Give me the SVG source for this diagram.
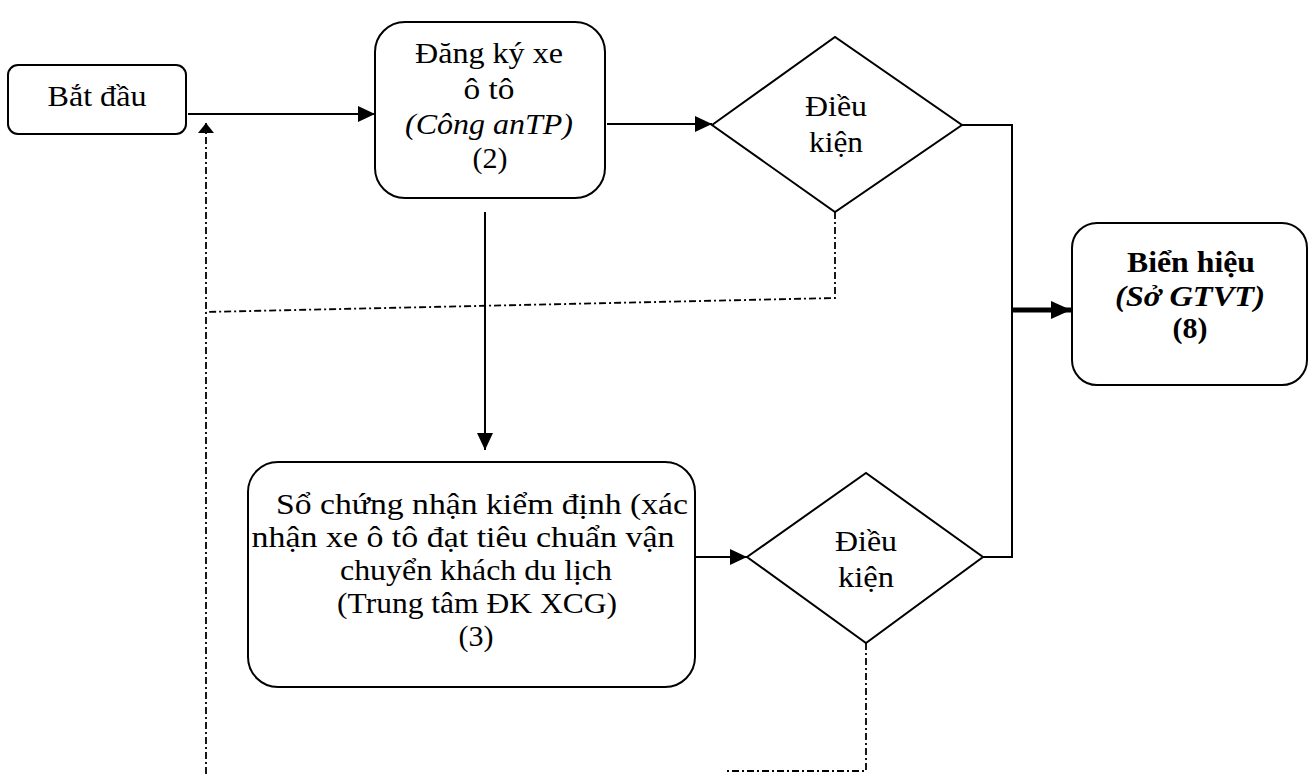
<svg xmlns="http://www.w3.org/2000/svg" width="1312" height="774" viewBox="0 0 1312 774">
<style>
  .box { fill: #fff; stroke: #000; stroke-width: 2; }
  .t { font-family: "Liberation Serif", "Times New Roman", serif; font-size: 29px; fill: #000; text-anchor: middle; }
  .it { font-style: italic; }
  .b { font-weight: bold; }
  .ln { fill: none; stroke: #000; stroke-width: 2; }
  .thick { fill: none; stroke: #000; stroke-width: 5; }
  .dd { fill: none; stroke: #000; stroke-width: 1.8; stroke-dasharray: 7 3 2 3; }
</style>
<defs>
  <marker id="arr" markerUnits="userSpaceOnUse" markerWidth="18" markerHeight="18" refX="17" refY="8" orient="auto">
    <path d="M0,0 L17,8 L0,16 Z" fill="#000"/>
  </marker>
  <marker id="arrBig" markerUnits="userSpaceOnUse" markerWidth="22" markerHeight="22" refX="20" refY="9" orient="auto">
    <path d="M0,0 L20,9 L0,18 Z" fill="#000"/>
  </marker>
  <marker id="arrSm" markerUnits="userSpaceOnUse" markerWidth="14" markerHeight="18" refX="10" refY="8" orient="auto">
    <path d="M0,0 L10,8 L0,16 Z" fill="#000"/>
  </marker>
</defs>

<g id="connectors">
  <line class="ln" x1="188" y1="114" x2="375" y2="114" marker-end="url(#arr)"/>
  <line class="ln" x1="607" y1="124" x2="712" y2="124" marker-end="url(#arr)"/>
  <polyline class="ln" points="962,125 1012,125 1012,557 983,557"/>
  <line class="thick" x1="1012" y1="310" x2="1071" y2="310" marker-end="url(#arrBig)"/>
  <line class="ln" x1="485" y1="212" x2="485" y2="450" marker-end="url(#arr)"/>
  <line class="ln" x1="695" y1="557" x2="747" y2="557" marker-end="url(#arr)"/>
  <polyline class="dd" points="835,212 835,298 206,312"/>
  <line class="dd" x1="206" y1="774" x2="206" y2="123" marker-end="url(#arrSm)"/>
  <polyline class="dd" points="866,643 866,771 725,771"/>
</g>

<g id="start">
  <rect class="box" x="8" y="65" width="178" height="69" rx="10"/>
  <text class="t" x="97" y="106" textLength="99" lengthAdjust="spacingAndGlyphs">Bắt đầu</text>
</g>

<g id="register">
  <rect class="box" x="375" y="22" width="230" height="176" rx="30"/>
  <text class="t" x="489" y="63" textLength="148" lengthAdjust="spacingAndGlyphs">Đăng ký xe</text>
  <text class="t" x="489" y="99" textLength="51" lengthAdjust="spacingAndGlyphs">ô tô</text>
  <text class="t it" x="489" y="134" textLength="168" lengthAdjust="spacingAndGlyphs">(Công anTP)</text>
  <text class="t" x="490" y="168" textLength="35" lengthAdjust="spacingAndGlyphs">(2)</text>
</g>

<g id="cond1">
  <polygon class="box" points="712,125 835,37 962,125 835,212"/>
  <text class="t" x="836" y="116" textLength="62" lengthAdjust="spacingAndGlyphs">Điều</text>
  <text class="t" x="836" y="152" textLength="54" lengthAdjust="spacingAndGlyphs">kiện</text>
</g>

<g id="inspection">
  <rect class="box" x="248" y="462" width="447" height="225" rx="30"/>
  <text class="t" x="482" y="514" textLength="412" lengthAdjust="spacingAndGlyphs">Sổ chứng nhận kiểm định (xác</text>
  <text class="t" x="463" y="547" textLength="423" lengthAdjust="spacingAndGlyphs">nhận xe ô tô đạt tiêu chuẩn vận</text>
  <text class="t" x="476" y="580" textLength="272" lengthAdjust="spacingAndGlyphs">chuyển khách du lịch</text>
  <text class="t" x="477" y="613" textLength="280" lengthAdjust="spacingAndGlyphs">(Trung tâm ĐK XCG)</text>
  <text class="t" x="476" y="646" textLength="35" lengthAdjust="spacingAndGlyphs">(3)</text>
</g>

<g id="cond2">
  <polygon class="box" points="747,557 866,473 983,557 866,643"/>
  <text class="t" x="866" y="551" textLength="62" lengthAdjust="spacingAndGlyphs">Điều</text>
  <text class="t" x="866" y="587" textLength="56" lengthAdjust="spacingAndGlyphs">kiện</text>
</g>

<g id="plate">
  <rect class="box" x="1072" y="223" width="235" height="162" rx="25"/>
  <text class="t b" x="1191" y="272" textLength="128" lengthAdjust="spacingAndGlyphs">Biển hiệu</text>
  <text class="t b it" x="1190" y="306" textLength="150" lengthAdjust="spacingAndGlyphs">(Sở GTVT)</text>
  <text class="t b" x="1190" y="338" textLength="35" lengthAdjust="spacingAndGlyphs">(8)</text>
</g>
</svg>
